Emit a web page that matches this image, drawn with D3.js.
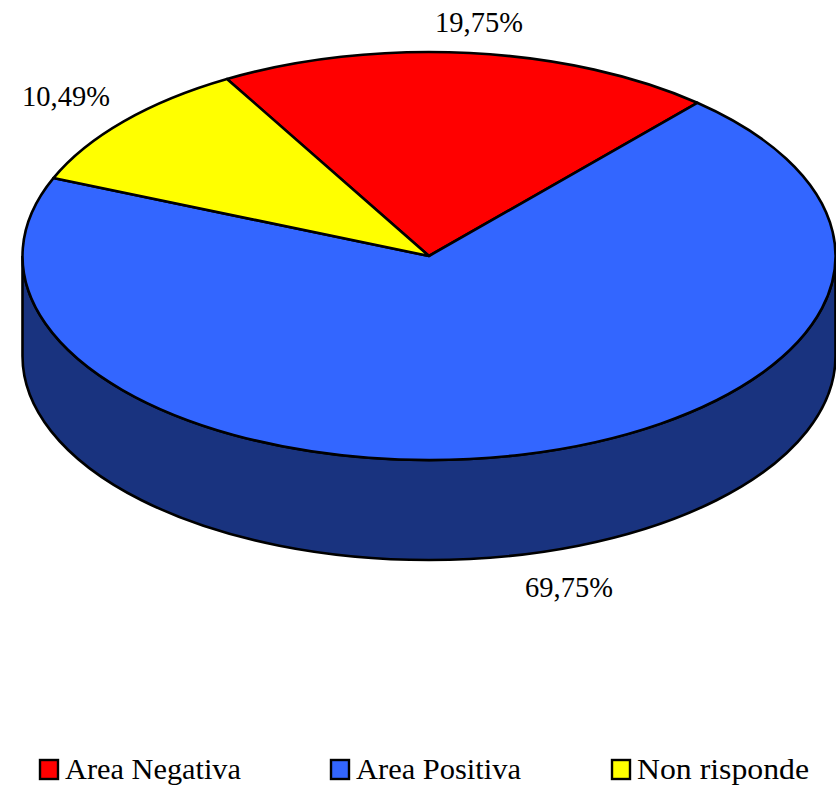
<!DOCTYPE html>
<html><head><meta charset="utf-8">
<script src="https://cdn.jsdelivr.net/npm/d3@7/dist/d3.min.js"></script>
<style>html,body{margin:0;padding:0;background:#fff}svg{display:block}
text{font-family:"Liberation Serif",serif;fill:#000}
.lbl{font-size:28.5px}
.leg{font-size:30px}
</style></head><body>
<svg id="c" width="836" height="786"></svg>
<script>
const categories = ["Area Negativa", "Area Positiva", "Non risponde"];
const values = [19.75, 69.75, 10.49];
const labels = ["19,75%", "69,75%", "10,49%"];
const colors = ["#ff0000", "#3366ff", "#ffff00"];
const wallColor = "#19337f";
const labelPos = [[479, 32], [569, 597], [66, 106]];
const legendX = [39, 330, 611];
const legendTextWidth = [176, 165, 172];

const svg = d3.select("#c");
const cx = 429, cy = 256, rx = 406.5, ry = 204, depth = 100;
const start = -29.8 * Math.PI / 180;

const pie = d3.pie().sort(null).value(d => d).startAngle(start).endAngle(start + 2 * Math.PI);
const arc = d3.arc().innerRadius(0).outerRadius(1);
const g = svg.append("g").attr("transform", `translate(${cx},${cy}) scale(${rx},${ry})`);

const h = depth / ry;
const wall = d3.path();
wall.arc(0, 0, 1, 0, Math.PI);
wall.lineTo(-1, h);
wall.arc(0, h, 1, Math.PI, 0, true);
wall.closePath();
g.append("path").attr("d", wall.toString()).attr("fill", wallColor)
  .attr("stroke", "#000").attr("stroke-width", 2.6).attr("vector-effect", "non-scaling-stroke");

g.selectAll("path.s").data(pie(values)).join("path").attr("class", "s")
  .attr("d", arc).attr("fill", (d, i) => colors[i])
  .attr("stroke", "#000").attr("stroke-width", 2.6).attr("stroke-linejoin", "round")
  .attr("vector-effect", "non-scaling-stroke");

svg.selectAll("text.lbl").data(labels).join("text").attr("class", "lbl")
  .attr("x", (d, i) => labelPos[i][0]).attr("y", (d, i) => labelPos[i][1])
  .attr("text-anchor", "middle").text(d => d);

const lg = svg.selectAll("g.l").data(categories).join("g").attr("class", "l")
  .attr("transform", (d, i) => `translate(${legendX[i]},0)`);
lg.append("rect").attr("x", 1).attr("y", 760).attr("width", 18).attr("height", 19)
  .attr("fill", (d, i) => colors[i]).attr("stroke", "#000").attr("stroke-width", 2.4);
lg.append("text").attr("class", "leg").attr("x", 26).attr("y", 779)
  .attr("textLength", (d, i) => legendTextWidth[i]).attr("lengthAdjust", "spacingAndGlyphs").text(d => d);
</script></body></html>
